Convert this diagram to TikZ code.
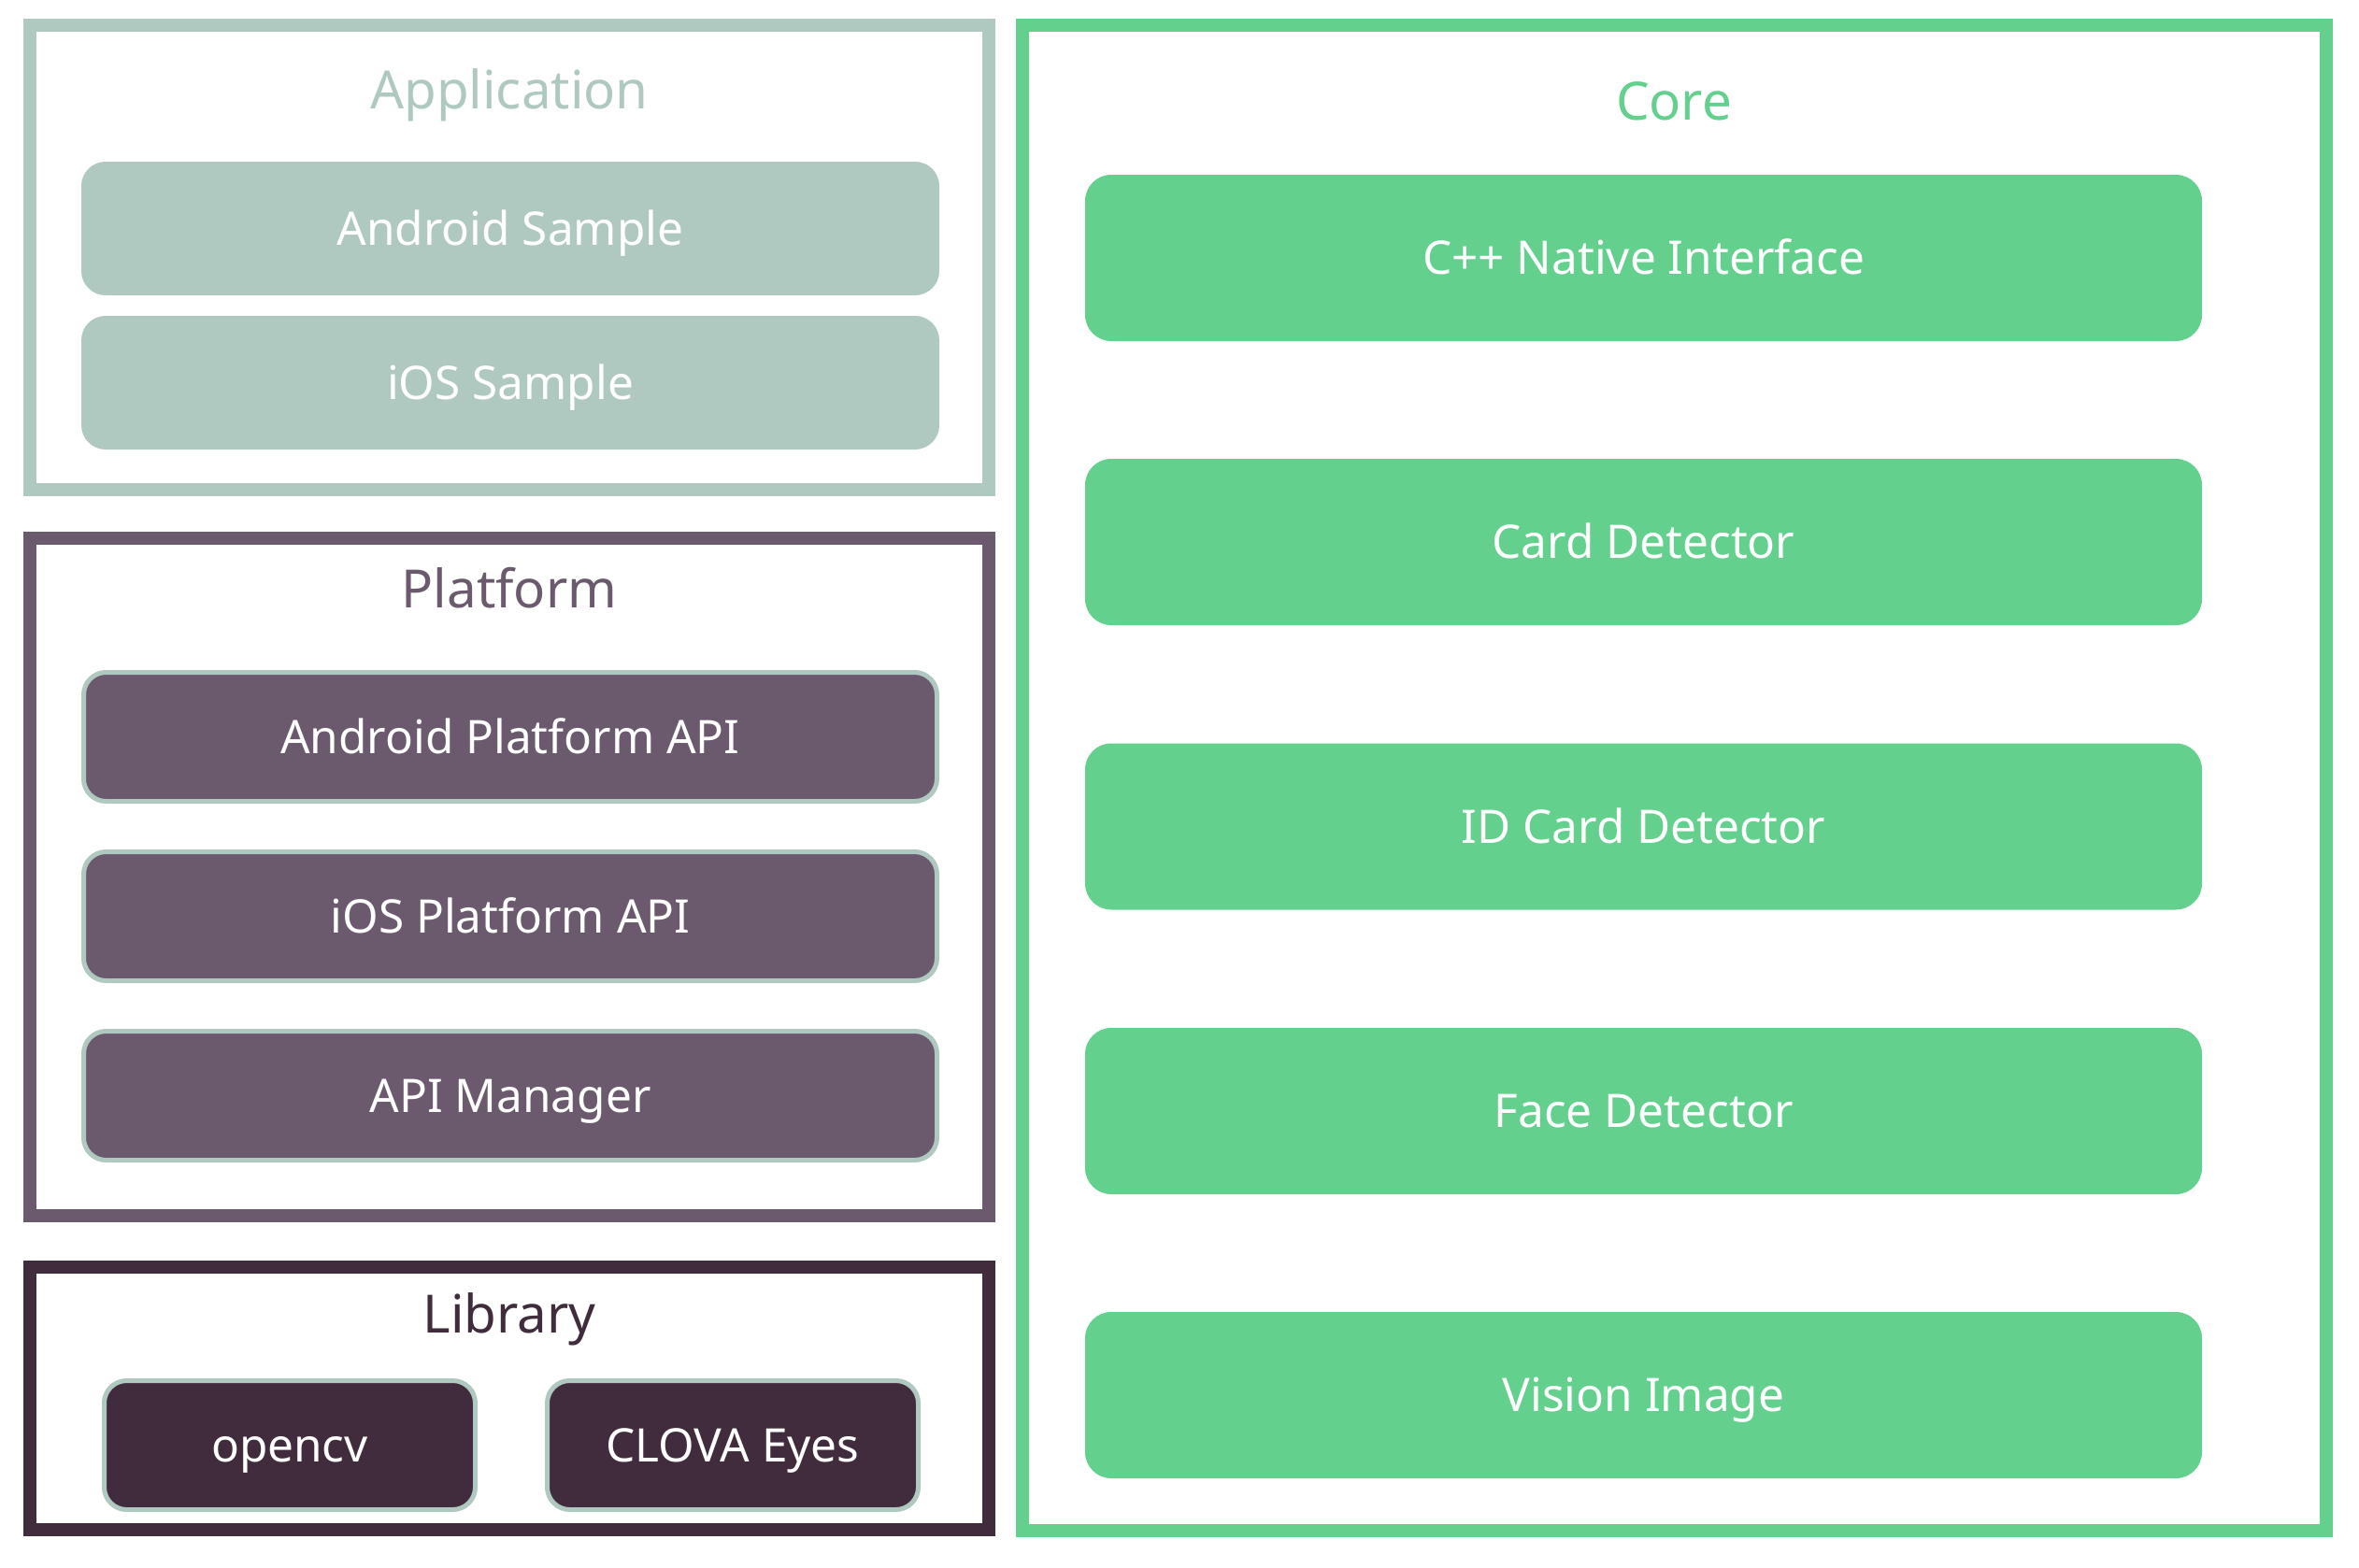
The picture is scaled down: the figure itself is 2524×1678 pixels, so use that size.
\documentclass[tikz,border=0pt]{standalone}
\usepackage{fontspec}
\setmainfont{Noto Sans}
\definecolor{appc}{HTML}{B0C9C0}
\definecolor{platc}{HTML}{6B596D}
\definecolor{libc}{HTML}{402C3C}
\definecolor{corec}{HTML}{63D08D}
\begin{document}
\begin{tikzpicture}[x=1pt,y=-1pt,
  frame/.style={draw, line width=14pt, fill=white, inner sep=0pt},
  title/.style={anchor=base, inner sep=0pt, font=\fontsize{56.5}{64}\selectfont},
  boxtext/.style={text=white, inner sep=0pt, font=\fontsize{49.5}{58}\selectfont, text height=35.3pt, text depth=0pt},
  appbox/.style={boxtext, fill=appc, minimum width=918pt, minimum height=143pt, rounded corners=26pt},
  platbox/.style={boxtext, fill=platc, draw=appc, line width=5pt, minimum width=913pt, minimum height=138pt, rounded corners=24pt},
  libbox/.style={boxtext, fill=libc, draw=appc, line width=5pt, minimum width=397pt, minimum height=138pt, rounded corners=24pt},
  corebox/.style={boxtext, fill=corec, minimum width=1195pt, minimum height=178pt, rounded corners=28pt}
]
\useasboundingbox[fill=white] (0,0) rectangle (2524,1678);
% frames
\node[frame, draw=appc, minimum width=1026pt, minimum height=497pt] (appf) at (545,275.5) {};
\node[frame, draw=platc, minimum width=1026pt, minimum height=725pt] (platf) at (545,938.5) {};
\node[frame, draw=libc, minimum width=1026pt, minimum height=281pt] (libf) at (545,1496.5) {};
\node[frame, draw=corec, minimum width=1395pt, minimum height=1611pt] (coref) at (1791.5,832.5) {};
% titles
\node[title, text=appc] (appt) at (545,116) {Application};
\node[title, text=platc] (platt) at (545,650) {Platform};
\node[title, text=libc] (libt) at (545,1426) {Library};
\node[title, text=corec] (coret) at (1791,128) {Core};
% application
\node[appbox] (andS) at (546,244.5) {Android Sample};
\node[appbox] (iosS) at (546,409.5) {iOS Sample};
% platform
\node[platbox] (andP) at (546,788.5) {Android Platform API};
\node[platbox] (iosP) at (546,980.5) {iOS Platform API};
\node[platbox] (apiM) at (546,1172.5) {API Manager};
% library
\node[libbox] (ocv) at (310,1546.5) {opencv};
\node[libbox] (clova) at (784,1546.5) {CLOVA Eyes};
% core
\node[corebox] (cni) at (1758.5,276) {C++ Native Interface};
\node[corebox] (cd) at (1758.5,580) {Card Detector};
\node[corebox] (idcd) at (1758.5,884.5) {ID Card Detector};
\node[corebox] (fd) at (1758.5,1189) {Face Detector};
\node[corebox] (vi) at (1758.5,1493) {Vision Image};
\end{tikzpicture}
\end{document}
